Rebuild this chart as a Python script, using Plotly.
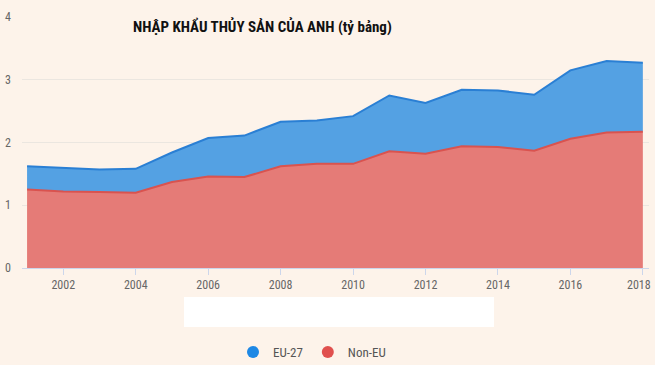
import plotly.graph_objects as go

years = list(range(2001, 2019))
non_eu = [1.25, 1.22, 1.21, 1.20, 1.37, 1.46, 1.45, 1.62, 1.66, 1.66,
          1.86, 1.82, 1.94, 1.93, 1.87, 2.06, 2.16, 2.17]
eu27 = [0.37, 0.37, 0.36, 0.38, 0.47, 0.61, 0.66, 0.71, 0.69, 0.76,
        0.89, 0.81, 0.90, 0.90, 0.89, 1.09, 1.14, 1.10]
x_ticks = [2002, 2004, 2006, 2008, 2010, 2012, 2014, 2016, 2018]
x_tick_labels = ["2002", "2004", "2006", "2008", "2010", "2012", "2014", "2016", ""]
last_tick_label = "2018"
y_ticks = [0, 1, 2, 3, 4]
title_text = "NHẬP KHẨU THỦY SẢN CỦA ANH (tỷ bảng)"

FONT = "Liberation Sans Narrow, Arial Narrow, Roboto Condensed, Liberation Sans, Arial, sans-serif"
BG = "#fdf3ea"

fig = go.Figure()
fig.add_trace(go.Scatter(
    x=years, y=non_eu, name="Non-EU", stackgroup="s", mode="lines",
    line=dict(color="#d9534f", width=2), fillcolor="#e57b77", showlegend=False))
fig.add_trace(go.Scatter(
    x=years, y=eu27, name="EU-27", stackgroup="s", mode="lines",
    line=dict(color="#2a7fd4", width=2), fillcolor="#54a1e3", showlegend=False))
# legend entries with circle symbols
fig.add_trace(go.Scatter(x=[None], y=[None], mode="markers", name="EU-27",
                         marker=dict(color="#1e88e5", size=12, symbol="circle")))
fig.add_trace(go.Scatter(x=[None], y=[None], mode="markers", name="Non-EU",
                         marker=dict(color="#e0504e", size=12, symbol="circle")))

fig.update_layout(
    width=655, height=365,
    margin=dict(l=22, r=6, t=17, b=97, autoexpand=False),
    paper_bgcolor=BG, plot_bgcolor=BG,
    font=dict(family=FONT, size=12, color="#666666"),
    showlegend=True,
    legend=dict(orientation="h", x=(233 - 22) / 627, xanchor="left", y=-0.335, yanchor="middle",
                traceorder="normal",
                bgcolor="rgba(0,0,0,0)", font=dict(size=13, color="#555555"),
                itemsizing="trace", itemwidth=30),
    xaxis=dict(range=[2000.86, 2018.17], tickvals=x_ticks, ticktext=x_tick_labels,
               showgrid=False, automargin=False,
               showline=True, linecolor="#ccd6eb", linewidth=1,
               ticks="outside", ticklen=6, tickcolor="#ccd6eb",
               zeroline=False, tickfont=dict(size=12, color="#666666")),
    yaxis=dict(range=[0, 4], tickvals=y_ticks, showgrid=True, gridcolor="#ebe6e0",
               gridwidth=1, zeroline=False, showline=False, automargin=False,
               ticklabelstandoff=10, tickfont=dict(size=12, color="#666666")),
    annotations=[
        dict(text="<b>" + title_text + "</b>", xref="paper", yref="paper",
             x=(262 - 22) / 627, y=(268 - 27) / 251, xanchor="center",
             yanchor="middle", showarrow=False,
             font=dict(family=FONT, size=15, color="#111111")),
        dict(text=last_tick_label, xref="paper", yref="paper",
             x=1.0, y=(268 - 285) / 251, xanchor="right", yanchor="middle",
             xshift=4,
             showarrow=False, font=dict(family=FONT, size=12, color="#666666")),
    ],
    shapes=[dict(type="rect", xref="paper", yref="paper",
                 x0=(184 - 22) / 627, x1=(494 - 22) / 627,
                 y0=(268 - 327) / 251, y1=(268 - 297) / 251,
                 fillcolor="#ffffff", line=dict(width=0), layer="above")],
)

fig.write_html("out.html", config={"displayModeBar": False},
               post_script="document.body.style.margin='0';document.body.style.background='" + BG + "';")
